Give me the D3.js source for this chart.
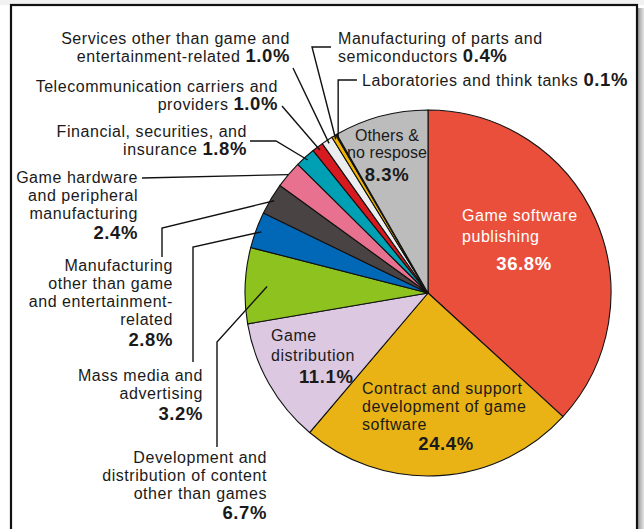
<!DOCTYPE html>
<html>
<head>
<meta charset="utf-8">
<script src="https://cdn.jsdelivr.net/npm/d3@7"></script>
<style>
  html, body { margin: 0; padding: 0; background: #fff; }
  svg { display: block; font-family: "Liberation Sans", Arial, sans-serif; }
</style>
</head>
<body>
<svg id="chart" width="644" height="529"></svg>
<script>
(function () {
    'use strict';

    // ── Data ──────────────────────────────────────────────────
    const categories = [
        'Game software publishing',
        'Contract and support development of game software',
        'Game distribution',
        'Development and distribution of content other than games',
        'Mass media and advertising',
        'Manufacturing other than game and entertainment-related',
        'Game hardware and peripheral manufacturing',
        'Financial, securities, and insurance',
        'Telecommunication carriers and providers',
        'Services other than game and entertainment-related',
        'Manufacturing of parts and semiconductors',
        'Laboratories and think tanks',
        'Others & no respose'
    ];
    const values = [36.8, 24.4, 11.1, 6.7, 3.2, 2.8, 2.4, 1.8, 1.0, 1.0, 0.4, 0.1, 8.3];
    const colors = ['#e94f3b', '#e9b316', '#dcc8e1', '#8dc21f', '#0068b7', '#494443',
                    '#e8718f', '#00a0b4', '#d71920', '#ecedee', '#f0b400', '#3aaa35', '#bcbcbc'];

    const CX = 428, CY = 293, R = 183;
    const LINE_H = 18;
    const FONT = 16, LS = 0.55;

    const svg = d3.select('#chart');

    // ── Frame ─────────────────────────────────────────────────
    const defs = svg.append('defs');
    const grad = defs.append('linearGradient').attr('id', 'shadow');
    grad.append('stop').attr('offset', '0%').attr('stop-color', '#9a9a9a');
    grad.append('stop').attr('offset', '100%').attr('stop-color', '#e6e6e6');
    svg.append('rect').attr('x', 0).attr('y', 0).attr('width', 644).attr('height', 5).attr('fill', '#f1f1f1');
    svg.append('rect').attr('x', 638).attr('y', 8).attr('width', 6).attr('height', 521).attr('fill', 'url(#shadow)');
    svg.append('rect')
        .attr('x', 11).attr('y', 5).attr('width', 626).attr('height', 560)
        .attr('fill', '#fff').attr('stroke', '#111').attr('stroke-width', 2.2);

    // ── Pie ───────────────────────────────────────────────────
    const pie = d3.pie().sort(null).value(d => d)(values);
    const arc = d3.arc().innerRadius(0).outerRadius(R);
    const g = svg.append('g').attr('transform', `translate(${CX},${CY})`);

    g.selectAll('path.slice')
        .data(pie)
        .join('path')
        .attr('class', 'slice')
        .attr('d', arc)
        .attr('fill', (d, i) => colors[i])
        .attr('stroke', '#111')
        .attr('stroke-width', 1.1)
        .attr('stroke-linejoin', 'round');

    function pointOn(i, rf) {
        const a = (pie[i].startAngle + pie[i].endAngle) / 2;
        return [CX + R * rf * Math.sin(a), CY - R * rf * Math.cos(a)];
    }

    // ── Leader lines ──────────────────────────────────────────
    // pts: elbow points from the label side; the last point sits inside the slice
    const leaders = [
        { i: 9,  pts: [[293, 68]], rf: 0.98 },
        { i: 10, pts: [[331, 47], [312, 47]], rf: 0.98 },
        { i: 11, pts: [[357, 80], ['x', 80]], rf: 0.98 },
        { i: 8,  pts: [[282, 106]], rf: 0.98 },
        { i: 7,  pts: [[250, 141], [276, 141]], rf: 0.98 },
        { i: 6,  pts: [[142, 178]], rf: 1.0 },
        { i: 5,  pts: [[162, 257], [162, 228]], rf: 0.98 },
        { i: 4,  pts: [[193, 362], [193, 247]], rf: 0.97 },
        { i: 3,  pts: [[217, 447], [217, 342]], rf: 0.88 }
    ];

    const line = d3.line();
    svg.selectAll('path.leader')
        .data(leaders)
        .join('path')
        .attr('class', 'leader')
        .attr('fill', 'none')
        .attr('stroke', '#111')
        .attr('stroke-width', 1.4)
        .attr('d', d => {
            const end = pointOn(d.i, d.rf);
            const pts = d.pts.map(p => [p[0] === 'x' ? end[0] : p[0], p[1]]);
            return line(pts.concat([end]));
        });

    // ── Labels ────────────────────────────────────────────────
    // one <text> per line; pct is appended in bold
    function label(x, y, anchor, lines, fill, ls) {
        let yy = y;
        lines.forEach((ln, k) => {
            if (k > 0) yy += (ln.dy || LINE_H);
            const t = svg.append('text')
                .attr('x', ln.px !== undefined ? ln.px : x).attr('y', yy)
                .attr('text-anchor', anchor)
                .attr('font-size', FONT)
                .attr('letter-spacing', ls !== undefined ? ls : LS)
                .attr('fill', fill || '#1a1a1a');
            if (ln.text) t.append('tspan').text(ln.text);
            if (ln.pct) {
                t.append('tspan')
                    .attr('font-size', 18.5)
                    .attr('font-weight', 'bold')
                    .attr('letter-spacing', 0.6)
                    .text(ln.pct);
            }
        });
    }

    const pct = i => values[i].toFixed(1) + '%';

    label(290, 44, 'end', [{ text: 'Services other than game and' }, { text: 'entertainment-related  ', pct: pct(9) }]);
    label(338, 44, 'start', [{ text: 'Manufacturing of parts and' }, { text: 'semiconductors  ', pct: pct(10) }]);
    label(362, 86, 'start', [{ text: 'Laboratories and think tanks ', pct: pct(11) }]);
    label(278, 92, 'end', [{ text: 'Telecommunication carriers and' }, { text: 'providers  ', pct: pct(8) }]);
    label(247, 137, 'end', [{ text: 'Financial, securities, and' }, { text: 'insurance  ', pct: pct(7) }]);
    label(138, 183, 'end', [{ text: 'Game hardware' }, { text: 'and peripheral' }, { text: 'manufacturing' }, { pct: pct(6), dy: 20 }]);
    label(173, 271, 'end', [{ text: 'Manufacturing' }, { text: 'other than game' }, { text: 'and entertainment-' }, { text: 'related' }, { pct: pct(5), dy: 21 }]);
    label(203, 381, 'end', [{ text: 'Mass media and' }, { text: 'advertising' }, { pct: pct(4), dy: 21 }]);
    label(267, 463, 'end', [{ text: 'Development and' }, { text: 'distribution of content' }, { text: 'other than games' }, { pct: pct(3), dy: 20 }]);

    // inside the pie
    label(387, 141, 'middle', [{ text: 'Others &' }, { text: 'no respose', dy: 17 }, { pct: pct(12), dy: 23 }], null, 0.1);
    label(462, 221, 'start', [{ text: 'Game software' }, { text: 'publishing', dy: 21 }], '#fff');
    label(524, 270, 'middle', [{ pct: pct(0) }], '#fff');
    label(271, 341, 'start', [{ text: 'Game' }, { text: 'distribution', dy: 19.5 }, { pct: pct(2), px: 299, dy: 22 }]);
    label(362, 394, 'start', [{ text: 'Contract and support' }, { text: 'development of game' }, { text: 'software' }]);
    label(446, 450, 'middle', [{ pct: pct(1) }]);
})();
</script>
</body>
</html>
